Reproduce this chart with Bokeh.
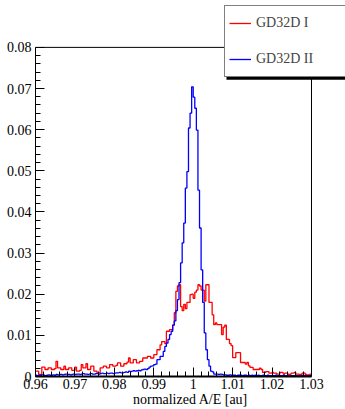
from bokeh.plotting import figure
from bokeh.models import FixedTicker, Legend, LegendItem, Range1d, NumeralTickFormatter, BoxAnnotation
from bokeh.embed import file_html
from bokeh.resources import INLINE

# histogram binning (x axis, normalized A/E)
x_lo = 0.96
bin_w = 0.0004

# bin contents, in units of 1e-3
red_vals = [
    1.3, 1.3, 0.5, 0.5, 2.3, 2.3, 1.7, 1.7, 2.1, 2.1,
    1.7, 1.7, 1.9, 3.7, 2.1, 2.1, 1.7, 1.7, 2.5, 1.7,
    1.7, 2.1, 2.1, 1.5, 1.5, 2.3, 1.3, 1.3, 1.5, 2.9,
    2.1, 2.1, 3.1, 1.7, 1.7, 2.5, 2.5, 1.3, 1.3, 0.9,
    0.9, 2.1, 2.1, 2.5, 2.5, 2.1, 2.1, 2.9, 2.9, 2.5,
    2.5, 2.7, 3.3, 3.3, 2.5, 2.5, 3.1, 3.1, 3.5, 4.5,
    3.3, 3.3, 4.1, 4.1, 3.3, 3.3, 3.7, 3.7, 4.5, 4.5,
    4.5, 4.9, 4.9, 4.5, 4.5, 5.3, 5.3, 6.5, 6.5, 7.7,
    8.5, 8.5, 8.0, 11.0, 11.0, 11.4, 11.4, 12.5, 15.5, 20.7,
    22.0, 22.3, 17.0, 16.0, 17.5, 16.5, 18.0, 18.0, 19.9, 20.0,
    19.0, 20.5, 21.0, 22.3, 22.0, 21.0, 21.0, 18.3, 22.3, 22.3,
    18.0, 18.0, 15.0, 12.6, 13.0, 12.6, 12.6, 12.6, 10.2, 12.0,
    12.5, 9.0, 9.0, 8.0, 7.5, 4.6, 4.6, 5.8, 5.8, 5.8,
    3.4, 3.4, 3.4, 3.0, 3.4, 2.6, 2.2, 2.2, 1.7, 1.7,
    1.7, 1.7, 2.0, 1.7, 1.0, 1.0, 1.2, 1.2, 0.8, 0.8,
    1.0, 0.8, 0.8, 0.6, 0.6, 1.0, 1.0, 0.6, 0.8, 0.8,
    0.5, 0.5, 0.8, 0.8, 1.0, 0.6, 0.6, 0.5, 0.5, 0.8,
    0.8, 0.5, 0.4, 0.4, 0.6,
]

blue_vals = [
    0.3, 0.2, 0.3, 0.3, 0.4, 0.3, 0.2, 0.3, 0.4, 0.3,
    0.3, 0.4, 0.3, 0.5, 0.4, 0.5, 0.5, 0.4, 0.5, 0.6,
    0.5, 0.5, 0.4, 0.5, 0.6, 0.5, 0.6, 0.6, 0.5, 0.6,
    0.7, 0.6, 0.6, 0.5, 0.6, 0.7, 0.6, 0.6, 0.7, 0.7,
    0.6, 0.7, 0.8, 0.7, 0.7, 0.8, 0.7, 0.8, 0.8, 0.7,
    0.8, 0.9, 0.9, 1.0, 0.9, 0.9, 1.0, 1.1, 1.0, 1.3,
    1.2, 1.3, 1.4, 1.3, 1.4, 1.5, 1.4, 1.6, 1.7, 1.8,
    1.7, 1.9, 2.3, 2.5, 2.6, 2.9, 3.0, 4.1, 4.1, 4.9,
    4.9, 6.1, 7.3, 8.1, 9.0, 10.2, 11.0, 12.5, 13.5, 16.0,
    18.7, 22.8, 27.6, 32.5, 37.3, 45.8, 49.8, 60.4, 64.0, 70.4,
    67.9, 65.2, 59.9, 45.3, 36.1, 25.9, 18.0, 10.6, 6.5, 4.1,
    2.5, 1.3, 1.1, 0.6, 0.6, 0.6, 0.5, 0.6, 0.5, 0.4,
    0.4, 0.3, 0.3, 0.4, 0.3, 0.3, 0.3, 0.2, 0.3, 0.3,
    0.3, 0.2, 0.3, 0.3, 0.2, 0.3, 0.2, 0.3, 0.2, 0.3,
    0.2, 0.3, 0.2, 0.2, 0.3, 0.2, 0.2, 0.3, 0.2, 0.2,
    0.2, 0.2, 0.3, 0.2, 0.2, 0.2, 0.2, 0.3, 0.2, 0.2,
    0.2, 0.2, 0.2, 0.2, 0.2, 0.2, 0.2, 0.2, 0.2, 0.2,
    0.2, 0.2, 0.2, 0.2, 0.2,
]

series_names = ["GD32D I", "GD32D II"]
x_ticks = [0.96, 0.97, 0.98, 0.99, 1.0, 1.01, 1.02, 1.03]
y_ticks = [0.0, 0.01, 0.02, 0.03, 0.04, 0.05, 0.06, 0.07, 0.08]

edges = [round(x_lo + bin_w * k, 5) for k in range(len(red_vals) + 1)]
red = [v * 0.001 for v in red_vals]
blue = [v * 0.001 for v in blue_vals]

FONT = "Liberation Serif"

# layout (pixels): axes box 35..311 x 47..377 inside a 345x409 canvas;
# the drawing frame is extended to the canvas top/right so that the legend
# box can overlap the top-right corner of the axes box like in the original.
W, H = 345, 409
box_l, box_r, box_t, box_b = 35, 311, 47, 377
x0, x1 = x_ticks[0], x_ticks[-1]
y0, y1 = y_ticks[0], y_ticks[-1]
ppx = (box_r - box_l) / (x1 - x0)
ppy = (box_b - box_t) / (y1 - y0)
x_end = x1 + (W - box_r) / ppx
y_end = y1 + box_t / ppy

def xd(px):
    return x0 + (px - box_l) / ppx

def yd(py):
    return y0 + (box_b - py) / ppy

p = figure(width=W, height=H, output_backend="svg", toolbar_location=None,
           x_range=Range1d(x0, x_end), y_range=Range1d(y0, y_end),
           min_border_left=box_l, min_border_right=0, min_border_top=0,
           min_border_bottom=H - box_b)
p.background_fill_color = "white"
p.border_fill_color = "white"
p.outline_line_color = None
p.xgrid.visible = False
p.ygrid.visible = False

r_red = p.step(x=edges, y=red + [red[-1]], mode="after", line_color="#ff0000", line_width=1.3)
r_blue = p.step(x=edges, y=blue + [blue[-1]], mode="after", line_color="#0000ff", line_width=1.3)

# top and right sides of the axes box
p.line(x=[x0, x1, x1], y=[y1, y1, y0], line_color="black", line_width=1)

minor_x = [round(x0 + 0.002 * k, 4) for k in range(36)]
minor_y = [round(y0 + 0.002 * k, 4) for k in range(41)]
p.xaxis.ticker = FixedTicker(ticks=x_ticks, minor_ticks=minor_x)
p.yaxis.ticker = FixedTicker(ticks=y_ticks, minor_ticks=minor_y)
p.xaxis.formatter = NumeralTickFormatter(format="0.[00]")
p.yaxis.formatter = NumeralTickFormatter(format="0.[00]")
p.xaxis.bounds = (x0, x1)
p.yaxis.bounds = (y0, y1)

for ax in (p.xaxis, p.yaxis):
    ax.major_tick_in = 9
    ax.major_tick_out = 0
    ax.minor_tick_in = 5
    ax.minor_tick_out = 0
    ax.major_tick_line_color = "black"
    ax.minor_tick_line_color = "black"
    ax.axis_line_color = "black"
    ax.major_label_text_font = FONT
    ax.major_label_text_font_size = "14px"
    ax.major_label_text_color = "black"
    ax.major_label_standoff = 2
p.yaxis.major_label_standoff = 4
p.xaxis.axis_line_width = 2
p.xaxis.axis_label = "normalized A/E [au]"
p.xaxis.axis_label_text_font = FONT
p.xaxis.axis_label_text_font_size = "14px"
p.xaxis.axis_label_text_font_style = "normal"
p.xaxis.axis_label_text_color = "black"
p.xaxis.axis_label_standoff = 0

# legend with a small drop shadow
leg_l, leg_t, leg_b = 224, 8, 78
shadow = BoxAnnotation(left=xd(leg_l + 2), right=xd(W + 5), top=yd(leg_t + 2),
                       bottom=yd(leg_b + 1.5), fill_color="black", fill_alpha=1.0,
                       line_color=None)
p.add_layout(shadow)

legend = Legend(items=[LegendItem(label=series_names[0], renderers=[r_red]),
                       LegendItem(label=series_names[1], renderers=[r_blue])],
                location=(leg_l - box_l, box_b - leg_b), margin=0, padding=4, spacing=10,
                label_height=26, glyph_height=26, glyph_width=22, label_standoff=5,
                label_width=85, label_text_font=FONT, label_text_font_size="14px",
                border_line_color="black", border_line_width=1,
                background_fill_color="white", background_fill_alpha=1.0)
p.add_layout(legend, "center")

open("out.html", "w").write(file_html(p, INLINE))
